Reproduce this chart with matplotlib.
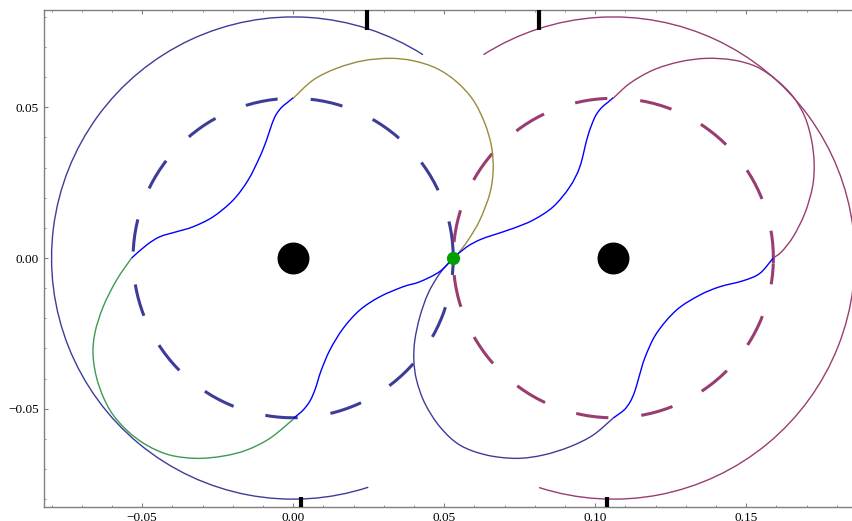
import matplotlib
matplotlib.use("Agg")
import matplotlib.pyplot as plt
from matplotlib.patches import Arc, PathPatch
from matplotlib.path import Path
from matplotlib.ticker import MultipleLocator, FuncFormatter

# two bodies, the point between them, and the rings / outer arcs
body_x = [0.0, 0.106]
body_y = [0.0, 0.0]
l1_x = [0.053]
l1_y = [0.0]
ring_r = 0.053
ring_start = [1.6, -1.8]          # where the dash pattern of each ring starts (deg)
outer_r = 0.08
outer_left_span = (57.5, 288.1)
outer_right_span = (-107.9, 122.5)

# thick marks on the frame
mark_top_x = [0.0246, 0.0815]
mark_top_y = 0.0757
mark_bottom_x = [0.0025, 0.1038]
mark_bottom_y = -0.0794

# blue S-shaped pieces, left body
s_left_a_x = [-0.0535, -0.04854, -0.04414, -0.03861, -0.03311, -0.02649, -0.01987,
              -0.0149, -0.01103, -0.00881, -0.00715, -0.00573, -0.00384, -0.00199, 0.0]
s_left_a_y = [0.0, 0.00431, 0.00707, 0.00873, 0.01039, 0.0137, 0.01924,
              0.02588, 0.03361, 0.03915, 0.04413, 0.04745, 0.05, 0.05153, 0.05319]
s_left_b_x = [0.05298, 0.0485, 0.04195, 0.03642, 0.02871, 0.02208,
              0.01656, 0.01215, 0.0092, 0.0074, 0.0057, 0.0037, 0.0018, 0.0]
s_left_b_y = [0.0, -0.0045, -0.00786, -0.00952, -0.01284, -0.01725,
              -0.02333, -0.03053, -0.0375, -0.0432, -0.0472, -0.05, -0.0518, -0.0532]

# blue S-shaped pieces, right body
s_right_a_x = [0.05298, 0.05741, 0.06182, 0.06622, 0.07284, 0.07946, 0.08609,
               0.09161, 0.09493, 0.0972, 0.0988, 0.1003, 0.1022, 0.104, 0.10595]
s_right_a_y = [0.0, 0.00365, 0.00607, 0.00763, 0.00985, 0.01261, 0.01702,
               0.02366, 0.03029, 0.0392, 0.0441, 0.0475, 0.05, 0.0515, 0.05319]
s_right_b_x = [0.15893, 0.15452, 0.149, 0.14128, 0.13466, 0.12694, 0.12032,
               0.1165, 0.1145, 0.1131, 0.1116, 0.1098, 0.1079, 0.10595]
s_right_b_y = [0.0, -0.00508, -0.00753, -0.00952, -0.01228, -0.01725, -0.02498,
               -0.033, -0.0395, -0.0443, -0.0477, -0.0502, -0.0517, -0.0531]

# outer loops
olive_x = [0.0, 0.00662, 0.01437, 0.02318, 0.03202, 0.03973, 0.04748, 0.0541, 0.0596,
           0.06347, 0.06569, 0.06622, 0.06513, 0.06182, 0.05794, 0.05463, 0.05298]
olive_y = [0.05299, 0.05906, 0.06294, 0.06547, 0.06626, 0.06547, 0.06294, 0.0585, 0.05242,
           0.04469, 0.03693, 0.0292, 0.02147, 0.01261, 0.00597, 0.00156, 0.0]
green_x = [-0.0535, -0.05847, -0.06291, -0.06566, -0.06622, -0.06456, -0.06069, -0.05516,
           -0.04854, -0.04083, -0.03198, -0.02318, -0.01543, -0.00771, 0.0]
green_y = [0.0, -0.0073, -0.01616, -0.02498, -0.03275, -0.04157, -0.05043, -0.05707,
           -0.06205, -0.06536, -0.06646, -0.0657, -0.06371, -0.05982, -0.05352]
purple_x = [0.10595, 0.11148, 0.1192, 0.12804, 0.13688, 0.14568, 0.15343, 0.16005, 0.16555,
            0.16942, 0.17164, 0.1725, 0.17197, 0.16942, 0.16555, 0.16171, 0.15893]
purple_y = [0.05299, 0.05797, 0.06238, 0.06513, 0.06626, 0.0657, 0.06347, 0.05906, 0.05352,
            0.04688, 0.03915, 0.03142, 0.02366, 0.01483, 0.00707, 0.00209, 0.0]
navy_x = [0.05298, 0.04857, 0.0447, 0.04195, 0.0403, 0.03996, 0.04086, 0.04361, 0.04857,
          0.05519, 0.06404, 0.07397, 0.08278, 0.09161, 0.09933, 0.10595]
navy_y = [0.0, -0.00508, -0.01171, -0.01948, -0.02721, -0.03384, -0.04048, -0.04821,
          -0.05597, -0.06205, -0.06536, -0.06646, -0.06536, -0.06261, -0.05873, -0.0531]

DARK_BLUE = "#3d3d99"
PURPLE = "#993d71"
OLIVE = "#998b3d"
GREEN = "#3d9954"
BLUE = "#0000ff"

plt.rcParams["font.family"] = ["Liberation Serif", "DejaVu Serif"]
plt.rcParams["lines.scale_dashes"] = False


def smooth_path(xs, ys):
    # cubic bezier path through the read points (smooth line style)
    pts = list(zip(xs, ys))
    verts = [pts[0]]
    codes = [Path.MOVETO]
    n = len(pts)
    for i in range(n - 1):
        p0 = pts[i - 1] if i > 0 else pts[i]
        p1 = pts[i]
        p2 = pts[i + 1]
        p3 = pts[i + 2] if i + 2 < n else p2
        c1 = (p1[0] + (p2[0] - p0[0]) / 6, p1[1] + (p2[1] - p0[1]) / 6)
        c2 = (p2[0] - (p3[0] - p1[0]) / 6, p2[1] - (p3[1] - p1[1]) / 6)
        verts += [c1, c2, p2]
        codes += [Path.CURVE4] * 3
    return Path(verts, codes)


def main():
    fig = plt.figure(figsize=(8.52, 5.21), dpi=100, facecolor="w")
    ax = fig.add_axes([44.3 / 852, 1 - 506.7 / 521, (854 - 44.3) / 852, 496.7 / 521])

    # dashed rings
    for cx, cy, col, start in zip(body_x, body_y, [DARK_BLUE, PURPLE], ring_start):
        ring = Arc((cx, cy), 2 * ring_r, 2 * ring_r, theta1=start, theta2=start + 359.9,
                   color=col, lw=2.2, linestyle=(0, (23.4, 23.8)), zorder=1)
        ax.add_patch(ring)

    # big outer arcs
    ax.add_patch(Arc((body_x[0], body_y[0]), 2 * outer_r, 2 * outer_r,
                     theta1=outer_left_span[0], theta2=outer_left_span[1],
                     color=DARK_BLUE, lw=1.0, zorder=2))
    ax.add_patch(Arc((body_x[1], body_y[1]), 2 * outer_r, 2 * outer_r,
                     theta1=outer_right_span[0], theta2=outer_right_span[1],
                     color=PURPLE, lw=1.0, zorder=2))

    curves = [(olive_x, olive_y, OLIVE, 2), (green_x, green_y, GREEN, 2),
              (purple_x, purple_y, PURPLE, 2), (navy_x, navy_y, DARK_BLUE, 2),
              (s_left_a_x, s_left_a_y, BLUE, 3), (s_left_b_x, s_left_b_y, BLUE, 3),
              (s_right_a_x, s_right_a_y, BLUE, 3), (s_right_b_x, s_right_b_y, BLUE, 3)]
    for xs, ys, col, z in curves:
        ax.add_patch(PathPatch(smooth_path(xs, ys), facecolor="none", edgecolor=col,
                               lw=1.0, zorder=z))

    ax.plot(body_x, body_y, "o", color="black", markersize=22, zorder=5)
    ax.plot(l1_x, l1_y, "o", color="#00a000", markersize=8.5, zorder=6)

    ax.set_xlim(-0.0824, 0.1857)
    ax.set_ylim(-0.0825, 0.0823)

    ax.vlines(mark_top_x, mark_top_y, 0.0823, color="black", lw=3,
              clip_on=False, zorder=7)
    ax.vlines(mark_bottom_x, -0.0825, mark_bottom_y, color="black", lw=3,
              clip_on=False, zorder=7)

    fmt = FuncFormatter(lambda v, _: f"{v:.2f}".replace("-0.00", "0.00").replace("-", "\u2212"))
    for axis in (ax.xaxis, ax.yaxis):
        axis.set_major_locator(MultipleLocator(0.05))
        axis.set_minor_locator(MultipleLocator(0.01))
        axis.set_major_formatter(fmt)
    ax.tick_params(which="both", direction="in", top=True, right=False,
                   color="#808080", labelsize=9.5, labelcolor="black", pad=4)
    ax.tick_params(which="major", length=3.2, width=0.8)
    ax.tick_params(which="minor", length=1.6, width=0.6)
    for sp in ax.spines.values():
        sp.set_color("#808080")
        sp.set_linewidth(1.0)

    fig.savefig("out.png", dpi=100)


if __name__ == "__main__":
    main()
